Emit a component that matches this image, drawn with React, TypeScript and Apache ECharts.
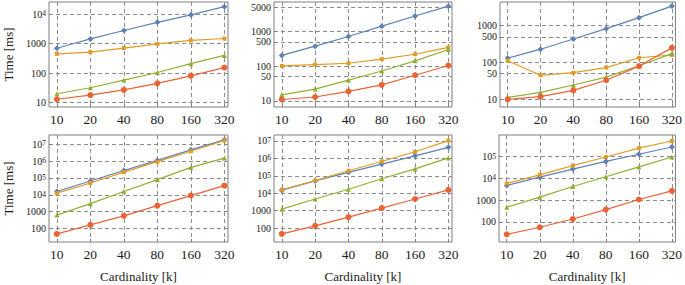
import React, { useEffect, useRef } from 'react';
import * as echarts from 'echarts';

// x categories (cardinality in thousands)
const cardinalities = [10, 20, 40, 80, 160, 320];

// Panel 1 (top-left)
const p1Blue = [700, 1450, 2800, 5300, 9500, 18000];
const p1Orange = [450, 520, 710, 980, 1300, 1500];
const p1Green = [20, 32, 58, 105, 210, 400];
const p1Red = [13, 18, 27, 45, 81, 155];
// Panel 2 (top-middle)
const p2Blue = [205, 380, 720, 1430, 2800, 5400];
const p2Orange = [102, 112, 122, 160, 222, 350];
const p2Green = [15, 22, 40, 73, 143, 305];
const p2Red = [11, 13, 19, 29, 55, 105];
// Panel 3 (top-right)
const p3Blue = [132, 230, 435, 830, 1650, 3400];
const p3Orange = [112, 45, 53, 73, 135, 160];
const p3Green = [11.3, 15.5, 24.5, 40, 82, 175];
const p3Red = [10, 11.8, 17.5, 33, 80, 250];
// Panel 4 (bottom-left)
const p4Blue = [15800, 66000, 275000, 1.1e6, 4.6e6, 1.8e7];
const p4Orange = [12500, 50000, 220000, 920000, 3.8e6, 1.66e7];
const p4Green = [630, 3000, 15800, 79000, 420000, 1.5e6];
const p4Red = [48, 165, 570, 2300, 9000, 35000];
// Panel 5 (bottom-middle)
const p5Blue = [15000, 51000, 158000, 470000, 1.4e6, 4.3e6];
const p5Orange = [16000, 53000, 195000, 660000, 2.4e6, 1.05e7];
const p5Green = [1230, 4700, 17000, 68000, 250000, 1.07e6];
const p5Red = [47, 135, 430, 1400, 4700, 15500];
// Panel 6 (bottom-right)
const p6Blue = [4800, 11500, 27000, 61000, 130000, 280000];
const p6Orange = [5900, 14700, 39000, 97000, 250000, 530000];
const p6Green = [475, 1380, 4300, 12000, 34000, 97000];
const p6Red = [27, 57, 137, 370, 1080, 2700];

// y tick values per panel
const p1Ticks = [10, 100, 1000, 1e4];
const p2Ticks = [10, 50, 100, 500, 1000, 5000];
const p3Ticks = [10, 50, 100, 500, 1000];
const p4Ticks = [100, 1000, 1e4, 1e5, 1e6, 1e7];
const p5Ticks = [100, 1000, 1e4, 1e5, 1e6, 1e7];
const p6Ticks = [100, 1000, 1e4, 1e5];

const xTitle = 'Cardinality [k]';
const yTitle = 'Time [ms]';

const panelSeries = [
  [p1Blue, p1Orange, p1Green, p1Red],
  [p2Blue, p2Orange, p2Green, p2Red],
  [p3Blue, p3Orange, p3Green, p3Red],
  [p4Blue, p4Orange, p4Green, p4Red],
  [p5Blue, p5Orange, p5Green, p5Red],
  [p6Blue, p6Orange, p6Green, p6Red],
];
const panelTicks = [p1Ticks, p2Ticks, p3Ticks, p4Ticks, p5Ticks, p6Ticks];

// layout / styling
const layout = [
  { left: 49, top: 2, width: 179, height: 105, yMin: 7.1, yMax: 26000 },
  { left: 274, top: 2, width: 178, height: 105, yMin: 6.7, yMax: 7100 },
  { left: 500, top: 2, width: 177, height: 105, yMin: 6.2, yMax: 4400 },
  { left: 49, top: 135, width: 179, height: 107, yMin: 16, yMax: 3.5e7 },
  { left: 274, top: 135, width: 178, height: 107, yMin: 16, yMax: 2.2e7 },
  { left: 499, top: 135, width: 178, height: 107, yMin: 12, yMax: 1.0e6 },
];
const colors = ['#5E81B5', '#E19C24', '#8FB032', '#EB6235'];
const symbols = ['diamond', 'rect', 'triangle', 'circle'];
const symbolSizes = [6, 4, 5, 6];
const FONT = '"Liberation Serif", "Times New Roman", "DejaVu Serif", serif';
const TEXT = '#1a1a1a';
const FRAME = '#7f7f7f';

const fmtY = (v: number) => {
  const e = Math.round(Math.log10(v));
  if (v >= 1e4 && Math.abs(v - Math.pow(10, e)) < 1e-6 * v) return `10{s|${e}}`;
  return String(Math.round(v));
};

export default function App() {
  const ref = useRef<HTMLDivElement>(null);
  useEffect(() => {
    const chart = echarts.init(ref.current!, null, { renderer: 'svg' });
    const grid: any[] = [];
    const xAxis: any[] = [];
    const yAxis: any[] = [];
    const series: any[] = [];
    layout.forEach((L, i) => {
      const col = i % 3;
      const row = Math.floor(i / 3);
      grid.push({
        left: L.left, top: L.top, width: L.width, height: L.height,
        show: true, borderColor: FRAME, borderWidth: 1, backgroundColor: 'transparent',
      });
      xAxis.push({
        type: 'log', logBase: 2, gridIndex: i, min: 8.5, max: 345,
        axisLine: { show: false },
        axisTick: { show: true, inside: true, length: 3, customValues: cardinalities, lineStyle: { color: FRAME } },
        axisLabel: {
          customValues: cardinalities, formatter: (v: number) => String(Math.round(v)),
          fontSize: 13.5, margin: 5, color: TEXT, fontFamily: FONT,
        },
        splitLine: { show: true, lineStyle: { type: [4, 3], color: '#8c8c8c', width: 1 } },
        name: row === 1 ? xTitle : '', nameLocation: 'middle', nameGap: 28,
        nameTextStyle: { fontSize: 13, color: TEXT, fontFamily: FONT },
      });
      yAxis.push({
        type: 'log', logBase: 10, gridIndex: i, min: L.yMin, max: L.yMax,
        axisLine: { show: false },
        axisTick: { show: true, inside: true, length: 3, customValues: panelTicks[i], lineStyle: { color: FRAME } },
        axisLabel: {
          customValues: panelTicks[i], formatter: fmtY,
          fontSize: 10, lineHeight: 9, margin: 3, color: TEXT, fontFamily: FONT,
          rich: { s: { fontSize: 7.5, lineHeight: 7, verticalAlign: 'top', color: TEXT, fontFamily: FONT } },
        },
        splitLine: { show: true, lineStyle: { type: [4, 3], color: '#8c8c8c', width: 1 } },
        name: col === 0 ? yTitle : '', nameLocation: 'middle', nameGap: 34, nameRotate: 90,
        nameTextStyle: { fontSize: 13, color: TEXT, fontFamily: FONT },
      });
      panelSeries[i].forEach((vals, s) => {
        series.push({
          type: 'line', xAxisIndex: i, yAxisIndex: i,
          data: cardinalities.map((c, k) => [c, vals[k]]),
          symbol: symbols[s], symbolSize: symbolSizes[s], showSymbol: true,
          lineStyle: { color: colors[s], width: 1.2 },
          itemStyle: { color: colors[s] },
          z: 2 + s,
        });
      });
    });
    chart.setOption({
      animation: false,
      backgroundColor: '#ffffff',
      textStyle: { fontFamily: FONT },
      grid, xAxis, yAxis, series,
    });
    return () => chart.dispose();
  }, []);
  return <div ref={ref} style={{ position: 'absolute', left: 0, top: 0, width: 685, height: 285 }} />;
}
